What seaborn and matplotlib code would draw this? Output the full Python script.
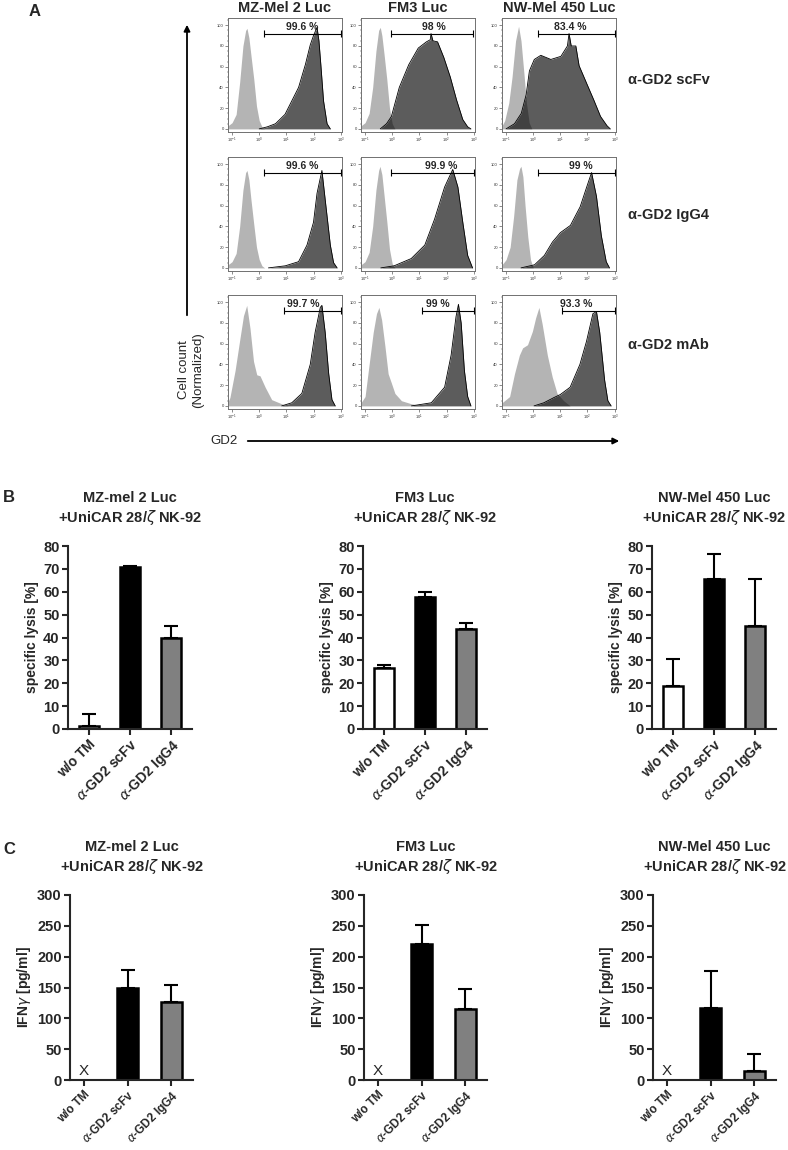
import numpy as np
import matplotlib
matplotlib.use("Agg")
import matplotlib.pyplot as plt
import seaborn as sns
from matplotlib.patches import FancyArrowPatch
from matplotlib.ticker import AutoMinorLocator, MultipleLocator

# ---- flow cytometry histograms (x = log10 fluorescence, y = % of max) ----
cell_lines = ["MZ-Mel 2 Luc", "FM3 Luc", "NW-Mel 450 Luc"]
stainings = ["α-GD2 scFv", "α-GD2 IgG4", "α-GD2 mAb"]

mz_scfv_ctrl_x = [-1.15, -1.0, -0.85, -0.72, -0.6, -0.5, -0.45, -0.38, -0.3, -0.2, -0.1, 0.0, 0.1, 0.2]
mz_scfv_ctrl_y = [3, 6, 14, 45, 80, 95, 97, 88, 70, 48, 22, 8, 2, 0]
mz_scfv_gd2_x = [0.0, 0.3, 0.6, 0.95, 1.2, 1.45, 1.7, 1.88, 2.0, 2.13, 2.2, 2.27, 2.37, 2.5, 2.62]
mz_scfv_gd2_y = [0, 2, 5, 14, 27, 40, 62, 81, 90, 98, 85, 62, 27, 5, 0]

fm3_scfv_ctrl_x = [-1.15, -1.0, -0.85, -0.72, -0.6, -0.5, -0.44, -0.38, -0.3, -0.2, -0.1, 0.0, 0.1]
fm3_scfv_ctrl_y = [3, 6, 15, 40, 75, 95, 98, 90, 72, 48, 20, 5, 0]
fm3_scfv_gd2_x = [-0.44, -0.21, -0.03, 0.26, 0.61, 0.96, 1.26, 1.4, 1.43, 1.5, 1.67, 1.9, 2.14, 2.37, 2.6, 2.78, 2.9]
fm3_scfv_gd2_y = [0, 5, 12, 40, 62, 78, 84, 86, 92, 85, 84, 69, 50, 28, 9, 2, 0]

nw_scfv_ctrl_x = [-1.15, -1.05, -0.9, -0.78, -0.65, -0.54, -0.45, -0.33, -0.25, -0.15, -0.05]
nw_scfv_ctrl_y = [3, 8, 25, 50, 85, 99, 85, 50, 25, 6, 0]
nw_scfv_gd2_x = [-1.0, -0.69, -0.44, -0.26, -0.14, 0.04, 0.28, 0.65, 1.02, 1.26, 1.32, 1.4, 1.57, 1.69, 2.0, 2.23, 2.48, 2.72, 2.84]
nw_scfv_gd2_y = [0, 5, 15, 33, 56, 67, 71, 67, 70, 80, 92, 80, 80, 61, 42, 28, 12, 3, 0]

mz_igg4_ctrl_x = [-1.15, -1.0, -0.85, -0.72, -0.6, -0.5, -0.45, -0.38, -0.3, -0.2, -0.1, 0.0, 0.1, 0.2]
mz_igg4_ctrl_y = [3, 6, 14, 40, 75, 92, 94, 85, 65, 42, 20, 8, 2, 0]
mz_igg4_gd2_x = [0.34, 0.96, 1.45, 1.76, 2.0, 2.13, 2.31, 2.43, 2.62, 2.74, 2.87]
mz_igg4_gd2_y = [0, 2, 6, 22, 44, 72, 94, 66, 22, 5, 0]

fm3_igg4_ctrl_x = [-1.15, -1.0, -0.85, -0.72, -0.6, -0.5, -0.45, -0.38, -0.3, -0.2, -0.1, 0.0, 0.1]
fm3_igg4_ctrl_y = [3, 6, 15, 40, 75, 94, 98, 90, 70, 45, 18, 4, 0]
fm3_igg4_gd2_x = [-0.42, 0.07, 0.7, 1.2, 1.56, 1.93, 2.23, 2.42, 2.6, 2.78, 2.96]
fm3_igg4_gd2_y = [0, 2, 9, 22, 47, 78, 95, 78, 44, 12, 0]

nw_igg4_ctrl_x = [-1.15, -1.0, -0.85, -0.72, -0.6, -0.5, -0.45, -0.38, -0.3, -0.2, -0.1, 0.0]
nw_igg4_ctrl_y = [3, 8, 20, 50, 85, 96, 98, 88, 60, 30, 8, 0]
nw_igg4_gd2_x = [-0.45, 0.05, 0.41, 0.71, 1.0, 1.37, 1.73, 1.97, 2.15, 2.33, 2.51, 2.69, 2.81]
nw_igg4_gd2_y = [0, 3, 12, 25, 34, 41, 59, 78, 92, 69, 31, 6, 0]

mz_mab_ctrl_x = [-1.15, -1.08, -0.89, -0.71, -0.58, -0.46, -0.34, -0.21, -0.09, 0.03, 0.22, 0.46, 0.83, 1.08]
mz_mab_ctrl_y = [4, 8, 34, 65, 87, 97, 75, 43, 30, 29, 18, 6, 2, 0]
mz_mab_gd2_x = [0.83, 1.2, 1.57, 1.88, 2.06, 2.25, 2.31, 2.43, 2.56, 2.68, 2.8]
mz_mab_gd2_y = [0, 3, 12, 40, 71, 95, 97, 71, 31, 6, 0]

fm3_mab_ctrl_x = [-1.15, -1.0, -0.88, -0.7, -0.58, -0.49, -0.39, -0.27, -0.15, -0.03, 0.1, 0.34, 0.71, 1.19]
fm3_mab_ctrl_y = [3, 9, 34, 71, 89, 95, 83, 58, 31, 22, 12, 5, 2, 0]
fm3_mab_gd2_x = [0.71, 1.44, 1.93, 2.17, 2.35, 2.44, 2.54, 2.66, 2.78, 2.9]
fm3_mab_gd2_y = [0, 3, 18, 49, 86, 98, 80, 34, 9, 0]

nw_mab_ctrl_x = [-1.15, -0.87, -0.69, -0.51, -0.39, -0.21, -0.03, 0.09, 0.21, 0.33, 0.52, 0.7, 0.88, 1.12, 1.36]
nw_mab_ctrl_y = [3, 9, 31, 49, 56, 59, 72, 85, 95, 79, 49, 28, 12, 5, 0]
nw_mab_gd2_x = [0.03, 0.39, 0.76, 1.0, 1.36, 1.72, 1.96, 2.2, 2.33, 2.45, 2.63, 2.75, 2.87]
nw_mab_gd2_y = [0, 3, 8, 11, 18, 40, 62, 89, 91, 71, 25, 5, 0]

# gates: start, end (log10), percent positive
gate_start = [[0.16, -0.03, 0.16], [0.19, -0.03, 0.17], [0.9, 1.11, 1.06]]
gate_end = [[3.0, 2.96, 3.0], [3.0, 3.0, 3.0], [3.0, 3.0, 3.0]]
gate_pct = [["99.6 %", "98 %", "83.4 %"], ["99.6 %", "99.9 %", "99 %"], ["99.7 %", "99 %", "93.3 %"]]

# ---- bar charts ----
bar_titles = ["MZ-mel 2 Luc", "FM3 Luc", "NW-Mel 450 Luc"]
conditions = ["w/o TM", "$\\alpha$-GD2 scFv", "$\\alpha$-GD2 IgG4"]
bar_colors = ["white", "black", "#808080"]

lysis_mean = [[1.2, 70.8, 40.0], [26.5, 57.5, 43.5], [19.0, 65.5, 45.0]]
lysis_sd = [[5.3, 0.4, 5.0], [1.5, 2.5, 3.0], [11.8, 11.2, 20.7]]
ifng_mean = [[np.nan, 149, 127], [np.nan, 221, 115], [np.nan, 116, 15]]
ifng_sd = [[np.nan, 29, 27], [np.nan, 30, 32], [np.nan, 61, 27]]

sns.set_style("ticks")
plt.rcParams["font.family"] = ["Liberation Sans", "DejaVu Sans"]
plt.rcParams["mathtext.fontset"] = "dejavusans"

W, H = 788, 1150
fig = plt.figure(figsize=(W / 100, H / 100), dpi=100)


def px(left, top, width, height):
    return [left / W, 1 - (top + height) / H, width / W, height / H]


hist_data = [
    [(mz_scfv_ctrl_x, mz_scfv_ctrl_y, mz_scfv_gd2_x, mz_scfv_gd2_y),
     (fm3_scfv_ctrl_x, fm3_scfv_ctrl_y, fm3_scfv_gd2_x, fm3_scfv_gd2_y),
     (nw_scfv_ctrl_x, nw_scfv_ctrl_y, nw_scfv_gd2_x, nw_scfv_gd2_y)],
    [(mz_igg4_ctrl_x, mz_igg4_ctrl_y, mz_igg4_gd2_x, mz_igg4_gd2_y),
     (fm3_igg4_ctrl_x, fm3_igg4_ctrl_y, fm3_igg4_gd2_x, fm3_igg4_gd2_y),
     (nw_igg4_ctrl_x, nw_igg4_ctrl_y, nw_igg4_gd2_x, nw_igg4_gd2_y)],
    [(mz_mab_ctrl_x, mz_mab_ctrl_y, mz_mab_gd2_x, mz_mab_gd2_y),
     (fm3_mab_ctrl_x, fm3_mab_ctrl_y, fm3_mab_gd2_x, fm3_mab_gd2_y),
     (nw_mab_ctrl_x, nw_mab_ctrl_y, nw_mab_gd2_x, nw_mab_gd2_y)],
]

# where the percent label sits along each gate (log10)
label_at = [[1.57, 1.55, 1.38], [1.57, 1.81, 1.76], [1.63, 1.68, 1.6]]

hist_left = [228, 361, 502]
hist_top = [18, 157, 295]
for i in range(3):
    for j in range(3):
        cx, cy, gx, gy = hist_data[i][j]
        ax = fig.add_axes(px(hist_left[j], hist_top[i], 114, 114))
        ax.fill_between(np.power(10.0, cx), cy, color="#b4b4b4", lw=0)
        ax.fill_between(np.power(10.0, gx), gy, color="black", alpha=0.64, lw=0)
        ax.plot(np.power(10.0, gx), gy, color="black", lw=0.6)
        ax.set_xscale("log")
        ax.set_xlim(10 ** -1.15, 10 ** 3.05)
        ax.set_ylim(-3, 107)
        ax.set_yticks([0, 20, 40, 60, 80, 100])
        ax.yaxis.set_minor_locator(AutoMinorLocator(4))
        ax.tick_params(which="major", length=2, width=0.4, labelsize=3, pad=1, colors="#333333")
        ax.tick_params(which="minor", length=1, width=0.3)
        for s in ax.spines.values():
            s.set_linewidth(0.7)
            s.set_color("#707070")
        # gate bar
        g0, g1 = 10 ** gate_start[i][j], 10 ** gate_end[i][j]
        gy_bar = 92
        ax.plot([g0, g1], [gy_bar, gy_bar], color="black", lw=0.8)
        ax.vlines([g0, g1], gy_bar - 3, gy_bar + 3, color="black", lw=0.8)
        ax.text(10 ** label_at[i][j], gy_bar + 1.5, gate_pct[i][j], ha="center", va="bottom",
                fontsize=7.5, fontweight="bold")

col_centers = [285, 418, 559]
for j, name in enumerate(cell_lines):
    fig.text(col_centers[j] / W, 1 - 8 / H, name, ha="center", va="center",
             fontsize=10.5, fontweight="bold")
row_centers = [80, 215, 345]
for i, name in enumerate(stainings):
    fig.text(628 / W, 1 - row_centers[i] / H, name, ha="left", va="center",
             fontsize=10.5, fontweight="bold")

# axis arrows of the histogram block
fig.add_artist(FancyArrowPatch((187 / W, 1 - 318 / H), (187 / W, 1 - 22 / H),
                               transform=fig.transFigure, arrowstyle="-|>",
                               mutation_scale=9, lw=1.3, color="black"))
fig.add_artist(FancyArrowPatch((245 / W, 1 - 441 / H), (622 / W, 1 - 441 / H),
                               transform=fig.transFigure, arrowstyle="-|>",
                               mutation_scale=9, lw=1.3, color="black"))
fig.text(191 / W, 1 - 370 / H, "Cell count\n(Normalized)", rotation=90,
         ha="center", va="center", fontsize=9.5, multialignment="center")
fig.text(210 / W, 1 - 441 / H, "GD2", ha="left", va="center", fontsize=9.5)

fig.text(35 / W, 1 - 12 / H, "A", ha="center", va="center", fontsize=12, fontweight="bold")
fig.text(9 / W, 1 - 497 / H, "B", ha="center", va="center", fontsize=12, fontweight="bold")
fig.text(9 / W, 1 - 850 / H, "C", ha="center", va="center", fontsize=12, fontweight="bold")


def bar_panel(rect, means, sds, title, ylabel, ymax, ystep, xlim, show_x, xfs):
    ax = fig.add_axes(rect)
    sns.barplot(x=conditions, y=means, hue=conditions,
                palette=dict(zip(conditions, bar_colors)), edgecolor="black",
                linewidth=1.8, width=0.48, legend=False, ax=ax)
    ax.errorbar(range(3), means, yerr=[np.zeros(3), sds], fmt="none",
                ecolor="black", elinewidth=1.5, capsize=5, capthick=1.5, zorder=0.9)
    if show_x:
        ax.text(0, ymax * 0.05, "X", ha="center", va="center", fontsize=11)
    ax.set_xlim(*xlim)
    ax.set_ylim(0, ymax)
    ax.yaxis.set_major_locator(MultipleLocator(ystep))
    ax.set_xticks(range(3))
    ax.set_xticklabels(conditions, rotation=45, ha="right", rotation_mode="anchor",
                       fontsize=xfs, fontweight="bold")
    for lab in ax.get_yticklabels():
        lab.set_fontweight("bold")
        lab.set_fontsize(10.5)
    ax.tick_params(width=1.5, length=4, pad=2)
    sns.despine(ax=ax)
    for s in ax.spines.values():
        s.set_linewidth(1.5)
    ax.set_ylabel(ylabel, fontsize=10, fontweight="bold", labelpad=3)
    ax.set_xlabel("")
    ax.set_title(title + "\n+UniCAR 28/$\\zeta$ NK-92", fontsize=10.5,
                 fontweight="bold", pad=17, linespacing=1.25)
    return ax


b_left = [68, 363, 652]
c_left = [70, 364, 653]
for k in range(3):
    bar_panel(px(b_left[k], 546, 124, 183), lysis_mean[k], lysis_sd[k], bar_titles[k],
              "specific lysis [%]", 80, 10, (-0.5, 2.5), False, 10)
    bar_panel(px(c_left[k], 895, 123, 185), ifng_mean[k], ifng_sd[k], bar_titles[k],
              "IFN$\\gamma$ [pg/ml]", 300, 50, (-0.32, 2.5), True, 8.5)

fig.savefig("out.png", dpi=100)
